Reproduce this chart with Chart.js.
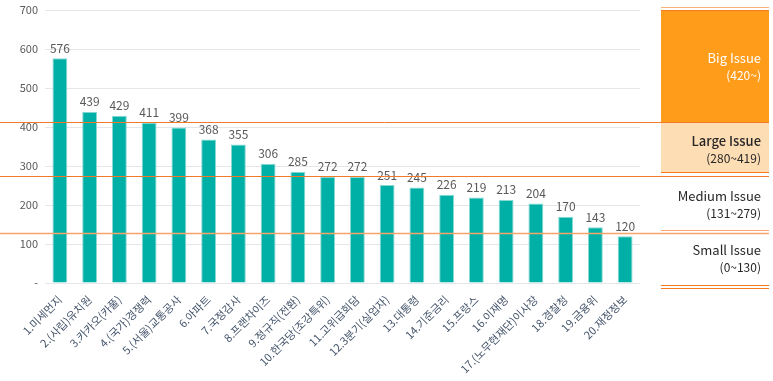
<!DOCTYPE html>
<html>
<head>
<meta charset="utf-8">
<script src="https://cdn.jsdelivr.net/npm/chart.js@4"></script>
<style>
  body { margin: 0; background: #fff; }
</style>
</head>
<body>
<canvas id="issueChart" width="773" height="381"></canvas>
<script>
const categories = ['1.미세먼지', '2.(사립)유치원', '3.카카오(카풀)', '4.(국가)경쟁력', '5.(서울)교통공사',
  '6.아파트', '7.국정감사', '8.프랜차이즈', '9.정규직(전환)', '10.한국당(조강특위)',
  '11.고위급회담', '12.3분기(실업자)', '13.대통령', '14.기준금리', '15.프랑스',
  '16.이재명', '17.(노무현재단)이사장', '18.경찰청', '19.금융위', '20.재정정보'];
const counts = [576, 439, 429, 411, 399, 368, 355, 306, 285, 272, 272, 251, 245, 226, 219, 213, 204, 170, 143, 120];
// band edges used by the side legend (as drawn, not as labelled)
const bandEdges = [700, 413, 274, 128, 0];
const bandTitles = ['Big Issue', 'Large Issue', 'Medium Issue', 'Small Issue'];
const bandRanges = ['(420~)', '(280~419)', '(131~279)', '(0~130)'];

const FONT = "'Noto Sans CJK KR', 'Noto Sans', sans-serif";

const valueLabels = {
  id: 'valueLabels',
  afterDatasetsDraw(chart) {
    const ctx = chart.ctx;
    const meta = chart.getDatasetMeta(0);
    ctx.save();
    ctx.font = '12px ' + FONT;
    ctx.fillStyle = '#595959';
    ctx.textAlign = 'center';
    ctx.textBaseline = 'bottom';
    meta.data.forEach((bar, i) => {
      ctx.fillText(counts[i], bar.x, bar.y - 4);
    });
    ctx.restore();
  }
};

const issuePanel = {
  id: 'issuePanel',
  afterDatasetsDraw(chart) {
    const ctx = chart.ctx;
    const y = chart.scales.y;
    const px = bandEdges.map(v => Math.round(y.getPixelForValue(v)));
    const x0 = 661, x1 = 769;
    ctx.save();

    // boxes
    ctx.fillStyle = '#FF9C1A';
    ctx.fillRect(x0, px[0], x1 - x0, px[1] - px[0]);
    ctx.fillStyle = '#FDDDB4';
    ctx.fillRect(x0, px[1], x1 - x0, px[2] - px[1] - 4);

    function hline(yy, xa, xb, color, w) {
      ctx.strokeStyle = color;
      ctx.lineWidth = w;
      ctx.beginPath();
      ctx.moveTo(xa, yy + 0.5);
      ctx.lineTo(xb, yy + 0.5);
      ctx.stroke();
    }
    hline(px[0] - 3, x0, x1, '#F9B27A', 1);
    hline(px[0], x0, x1, '#F47A20', 1);
    hline(px[1], 0, x1, '#F07A2A', 1);
    hline(px[2] - 4, x0, x1, '#F47A20', 1);
    hline(px[2], 0, x1, '#F07A2A', 1);
    hline(px[3] - 3, x0, x1, '#F9A66A', 1);
    hline(px[3], 0, x1, '#F7A36A', 1.5);
    hline(px[4] + 2, x0, x1, '#F47A20', 1);
    hline(px[4] + 5, x0, x1, '#F47A20', 1);

    ctx.textAlign = 'right';
    ctx.textBaseline = 'middle';
    const tx = 761;
    for (let i = 0; i < 4; i++) {
      const mid = (px[i] + px[i + 1]) / 2;
      ctx.fillStyle = i === 0 ? '#FFFFFF' : '#262626';
      ctx.font = (i === 1 ? '500 ' : '400 ') + '13px ' + FONT;
      ctx.fillText(bandTitles[i], tx, mid - 8);
      ctx.font = '400 12px ' + FONT;
      ctx.fillText(bandRanges[i], tx, mid + 9);
    }
    ctx.restore();
  }
};

new Chart(document.getElementById('issueChart'), {
  type: 'bar',
  data: {
    labels: categories,
    datasets: [{
      data: counts,
      backgroundColor: '#00AFA6',
      borderColor: '#8AD9D3',
      borderWidth: 1,
      barPercentage: 0.5,
      categoryPercentage: 1
    }]
  },
  options: {
    responsive: false,
    animation: false,
    layout: { padding: { top: 0, right: 133, left: 0, bottom: 0 } },
    plugins: {
      legend: { display: false },
      tooltip: { enabled: false }
    },
    scales: {
      x: {
        grid: { display: false },
        border: { display: false },
        ticks: {
          autoSkip: false,
          maxRotation: 45,
          minRotation: 45,
          color: '#44546A',
          font: { size: 11, family: FONT },
          padding: 2
        },
        afterFit(scale) { scale.height = 98; }
      },
      y: {
        min: 0,
        max: 700,
        ticks: {
          stepSize: 100,
          color: '#595959',
          font: { size: 11, family: FONT },
          padding: 7,
          callback: v => v === 0 ? '-' : v
        },
        grid: { color: '#E4E6EA', tickLength: 0 },
        border: { display: false },
        afterFit(scale) {
          scale.width = 45;
          scale.paddingTop = 10;
        }
      }
    }
  },
  plugins: [valueLabels, issuePanel]
});
</script>
</body>
</html>
